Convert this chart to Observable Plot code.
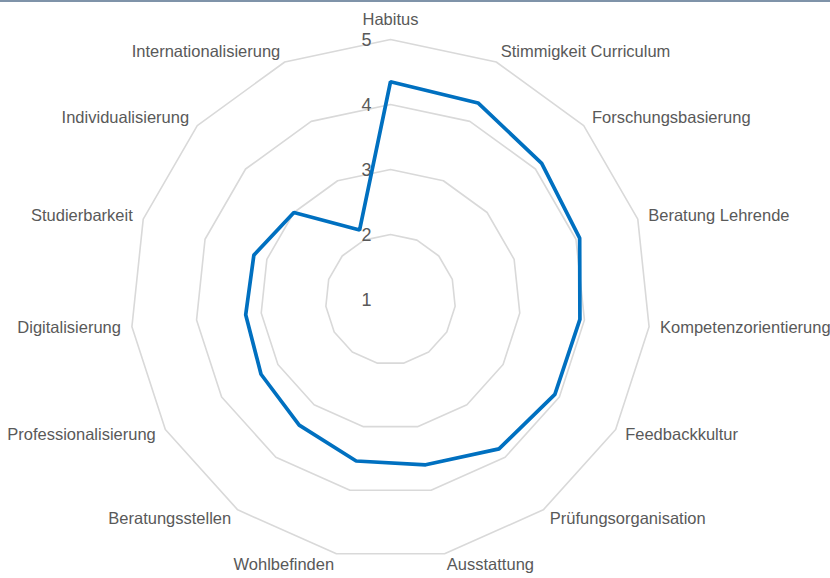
<!DOCTYPE html>
<html><head><meta charset="utf-8">
<script src="https://cdn.jsdelivr.net/npm/d3@7"></script>
<script src="https://cdn.jsdelivr.net/npm/@observablehq/plot@0.6"></script>
<style>
body{margin:0;background:#fff;}
#topline{height:2px;background:#7f93a9;}
#chart svg{display:block;}
</style></head><body>
<div id="topline"></div>
<div id="chart"></div>
<script>
const categories = ["Habitus","Stimmigkeit Curriculum","Forschungsbasierung","Beratung Lehrende","Kompetenzorientierung","Feedbackkultur","Prüfungsorganisation","Ausstattung","Wohlbefinden","Beratungsstellen","Professionalisierung","Digitalisierung","Studierbarkeit","Individualisierung","Internationalisierung"];
const values = [4.35, 4.31, 4.13, 4.06, 3.93, 3.92, 3.84, 3.60, 3.54, 3.39, 3.30, 3.24, 3.21, 3.00, 2.17];
const ringValues = [2, 3, 4, 5];
const tickLabels = ["1", "2", "3", "4", "5"];
const minValue = 1;

const n = categories.length;
const ang = i => i * 2 * Math.PI / n;
const X = (v, i) => (v - minValue) * Math.sin(ang(i));
const Y = (v, i) => (v - minValue) * Math.cos(ang(i));

const series = categories.map((c, i) => ({category: c, value: values[i], i}));
const rings = ringValues.flatMap(r => categories.map((c, i) => ({ring: r, i})));
const labelValue = 5 + 11 / 65;
const labels = categories.map((c, i) => ({category: c, i, s: Math.sin(ang(i))}));

const font = "'Liberation Sans', Arial, sans-serif";
const textColor = "#595959";

const chart = Plot.plot({
  width: 830,
  height: 576,
  x: {domain: [-6, 6], range: [0, 780], axis: null},
  y: {domain: [-6, 6], range: [687, -93], axis: null},
  style: {fontFamily: font, background: "#fff"},
  marks: [
    Plot.line(rings, {x: d => X(d.ring, d.i), y: d => Y(d.ring, d.i), z: "ring", curve: "linear-closed", stroke: "#d9d9d9", strokeWidth: 1.6}),
    Plot.text(tickLabels, {x: 0, y: d => +d - minValue, text: d => d, dx: -24, dy: 1, fontSize: 18, fill: textColor}),
    Plot.line(series, {x: d => X(d.value, d.i), y: d => Y(d.value, d.i), curve: "linear-closed", stroke: "#0070c0", strokeWidth: 3.7, strokeLinejoin: "miter"}),
    Plot.text(labels.filter(d => Math.abs(d.s) < 0.01), {x: d => X(labelValue, d.i), y: d => Y(labelValue, d.i), text: "category", textAnchor: "middle", lineAnchor: "bottom", dy: -4, fontSize: 16.5, fill: textColor}),
    Plot.text(labels.filter(d => d.s >= 0.01), {x: d => X(labelValue, d.i), y: d => Y(labelValue, d.i), text: "category", textAnchor: "start", lineAnchor: "middle", fontSize: 16.5, fill: textColor}),
    Plot.text(labels.filter(d => d.s <= -0.01), {x: d => X(labelValue, d.i), y: d => Y(labelValue, d.i), text: "category", textAnchor: "end", lineAnchor: "middle", fontSize: 16.5, fill: textColor})
  ]
});
document.getElementById("chart").appendChild(chart);
</script>
</body></html>
